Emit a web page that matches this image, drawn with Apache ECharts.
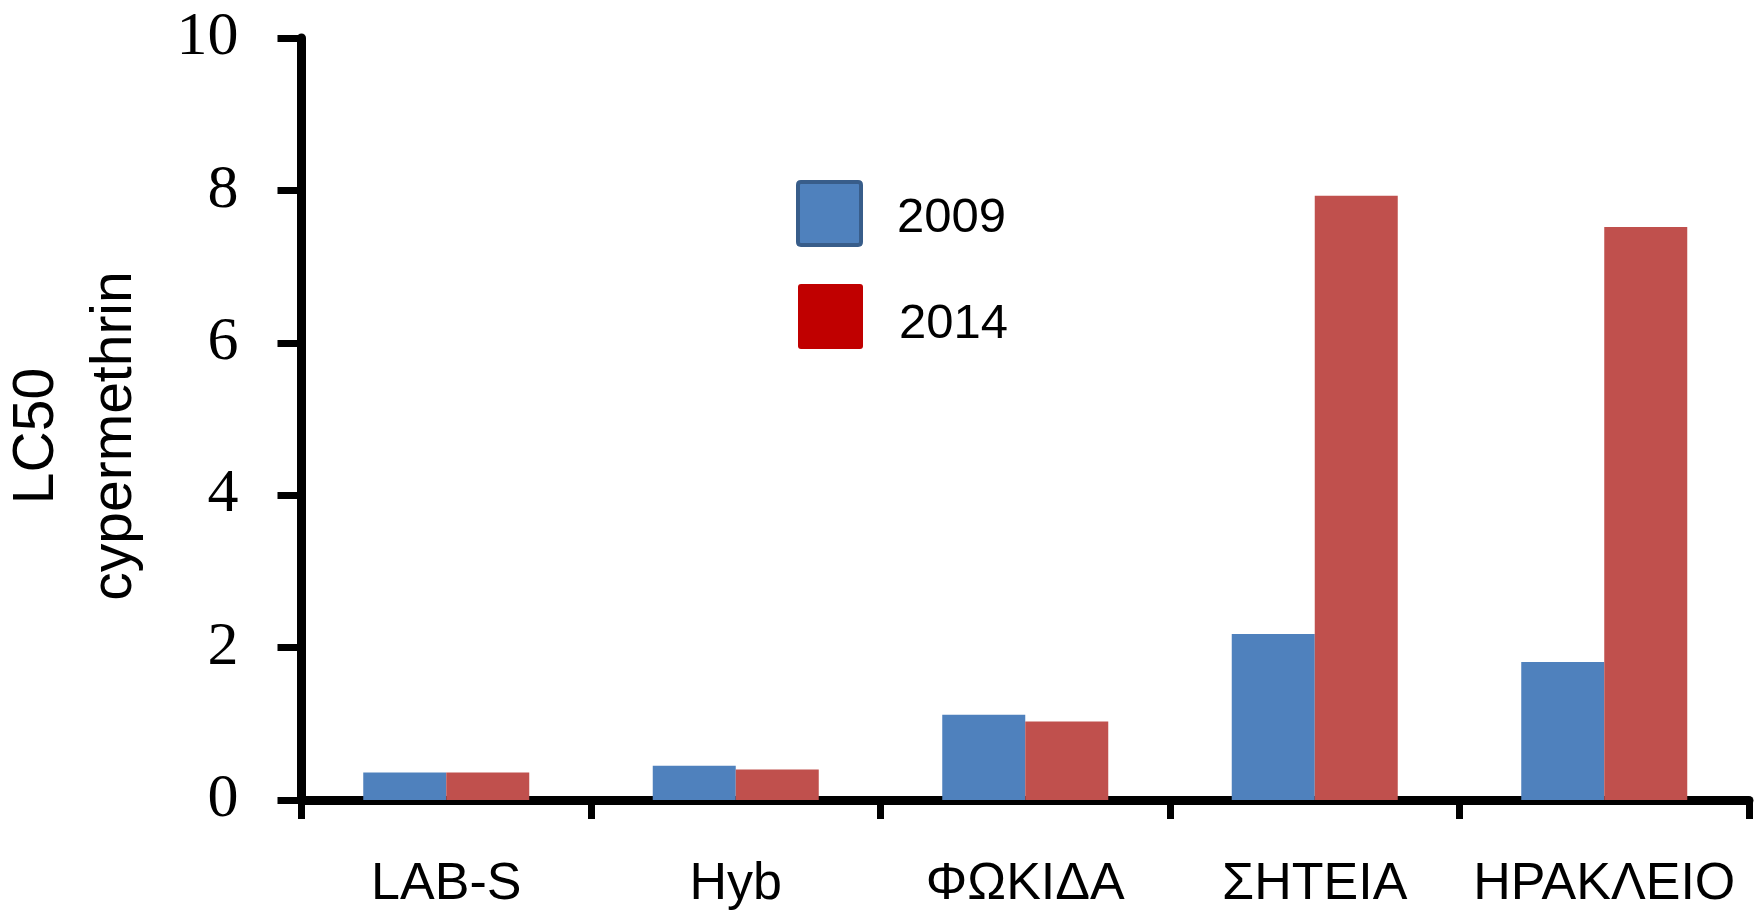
<!DOCTYPE html>
<html>
<head>
<meta charset="utf-8">
<script src="https://cdn.jsdelivr.net/npm/echarts@6/dist/echarts.min.js"></script>
<style>html,body{margin:0;padding:0;background:#fff}#c{width:1758px;height:914px}</style>
</head>
<body>
<div id="c"></div>
<script>
const categories = ['LAB-S', 'Hyb', 'ΦΩΚΙΔΑ', 'ΣΗΤΕΙΑ', 'ΗΡΑΚΛΕΙΟ'];
const values2009 = [0.36, 0.45, 1.12, 2.18, 1.81];
const values2014 = [0.36, 0.40, 1.03, 7.93, 7.52];
const seriesNames = ['2009', '2014'];
const yTitle = 'LC50\ncypermethrin';

const chart = echarts.init(document.getElementById('c'), null, {renderer: 'canvas'});
const sansFont = '"Liberation Sans", Arial, sans-serif';
const serifFont = '"Liberation Serif", "DejaVu Serif", serif';
const sq = 'path://M3,0 L62,0 Q65,0 65,3 L65,62 Q65,65 62,65 L3,65 Q0,65 0,62 L0,3 Q0,0 3,0 Z';
function legendText(shift) {
  return {
    fontFamily: sansFont, fontSize: 49, color: '#000', padding: [0, 0, 0, 31],
    rich: {
      sp: {height: shift, width: 0, fontSize: 10},
      t: {fontFamily: sansFont, fontSize: 49, color: '#000', padding: [shift, 0, 0, 0], verticalAlign: 'bottom'}
    }
  };
}
chart.setOption({
  backgroundColor: '#ffffff',
  animation: false,
  grid: {left: 301.5, right: 9, top: 38, bottom: 114, containLabel: false},
  legend: [
    {
      data: [{name: seriesNames[0], icon: sq, itemStyle: {color: '#4F81BD', borderColor: '#385D8A', borderWidth: 4}}],
      left: 791, top: 175, itemWidth: 63, itemHeight: 63,
      formatter: '{t|{name}}',
      textStyle: legendText(10),
      selectedMode: false
    },
    {
      data: [{name: seriesNames[1], icon: sq, itemStyle: {color: '#C00000', borderWidth: 0}}],
      left: 793, top: 279, itemWidth: 65, itemHeight: 66,
      formatter: '{t|{name}}',
      textStyle: legendText(16),
      selectedMode: false
    }
  ],
  xAxis: {
    type: 'category',
    data: categories,
    boundaryGap: true,
    axisLine: {show: true, onZero: true, lineStyle: {color: '#000', width: 9}},
    axisTick: {show: true, alignWithLabel: false, length: 19, inside: false, lineStyle: {color: '#000', width: 7}},
    axisLabel: {fontFamily: sansFont, fontSize: 52, color: '#000', margin: 59, interval: 0},
    splitLine: {show: false}
  },
  yAxis: {
    type: 'value',
    min: 0, max: 10, interval: 2,
    axisLine: {show: true, lineStyle: {color: '#000', width: 9}},
    axisTick: {show: true, length: 24, lineStyle: {color: '#000', width: 7}},
    axisLabel: {fontFamily: serifFont, fontSize: 62, color: '#000', margin: 63},
    splitLine: {show: false}
  },
  graphic: [{
    type: 'text',
    x: 76, y: 436,
    rotation: Math.PI / 2,
    style: {
      text: yTitle,
      font: '57px "Liberation Sans", Arial, sans-serif',
      fill: '#000',
      textAlign: 'center',
      textVerticalAlign: 'middle',
      lineHeight: 78
    }
  }],
  series: [
    {name: seriesNames[0], type: 'bar', data: values2009, barWidth: 83, barGap: '0%', itemStyle: {color: '#4F81BD'}},
    {name: seriesNames[1], type: 'bar', data: values2014, barWidth: 83, barGap: '0%', itemStyle: {color: '#C0504D'}}
  ]
});
</script>
</body>
</html>
